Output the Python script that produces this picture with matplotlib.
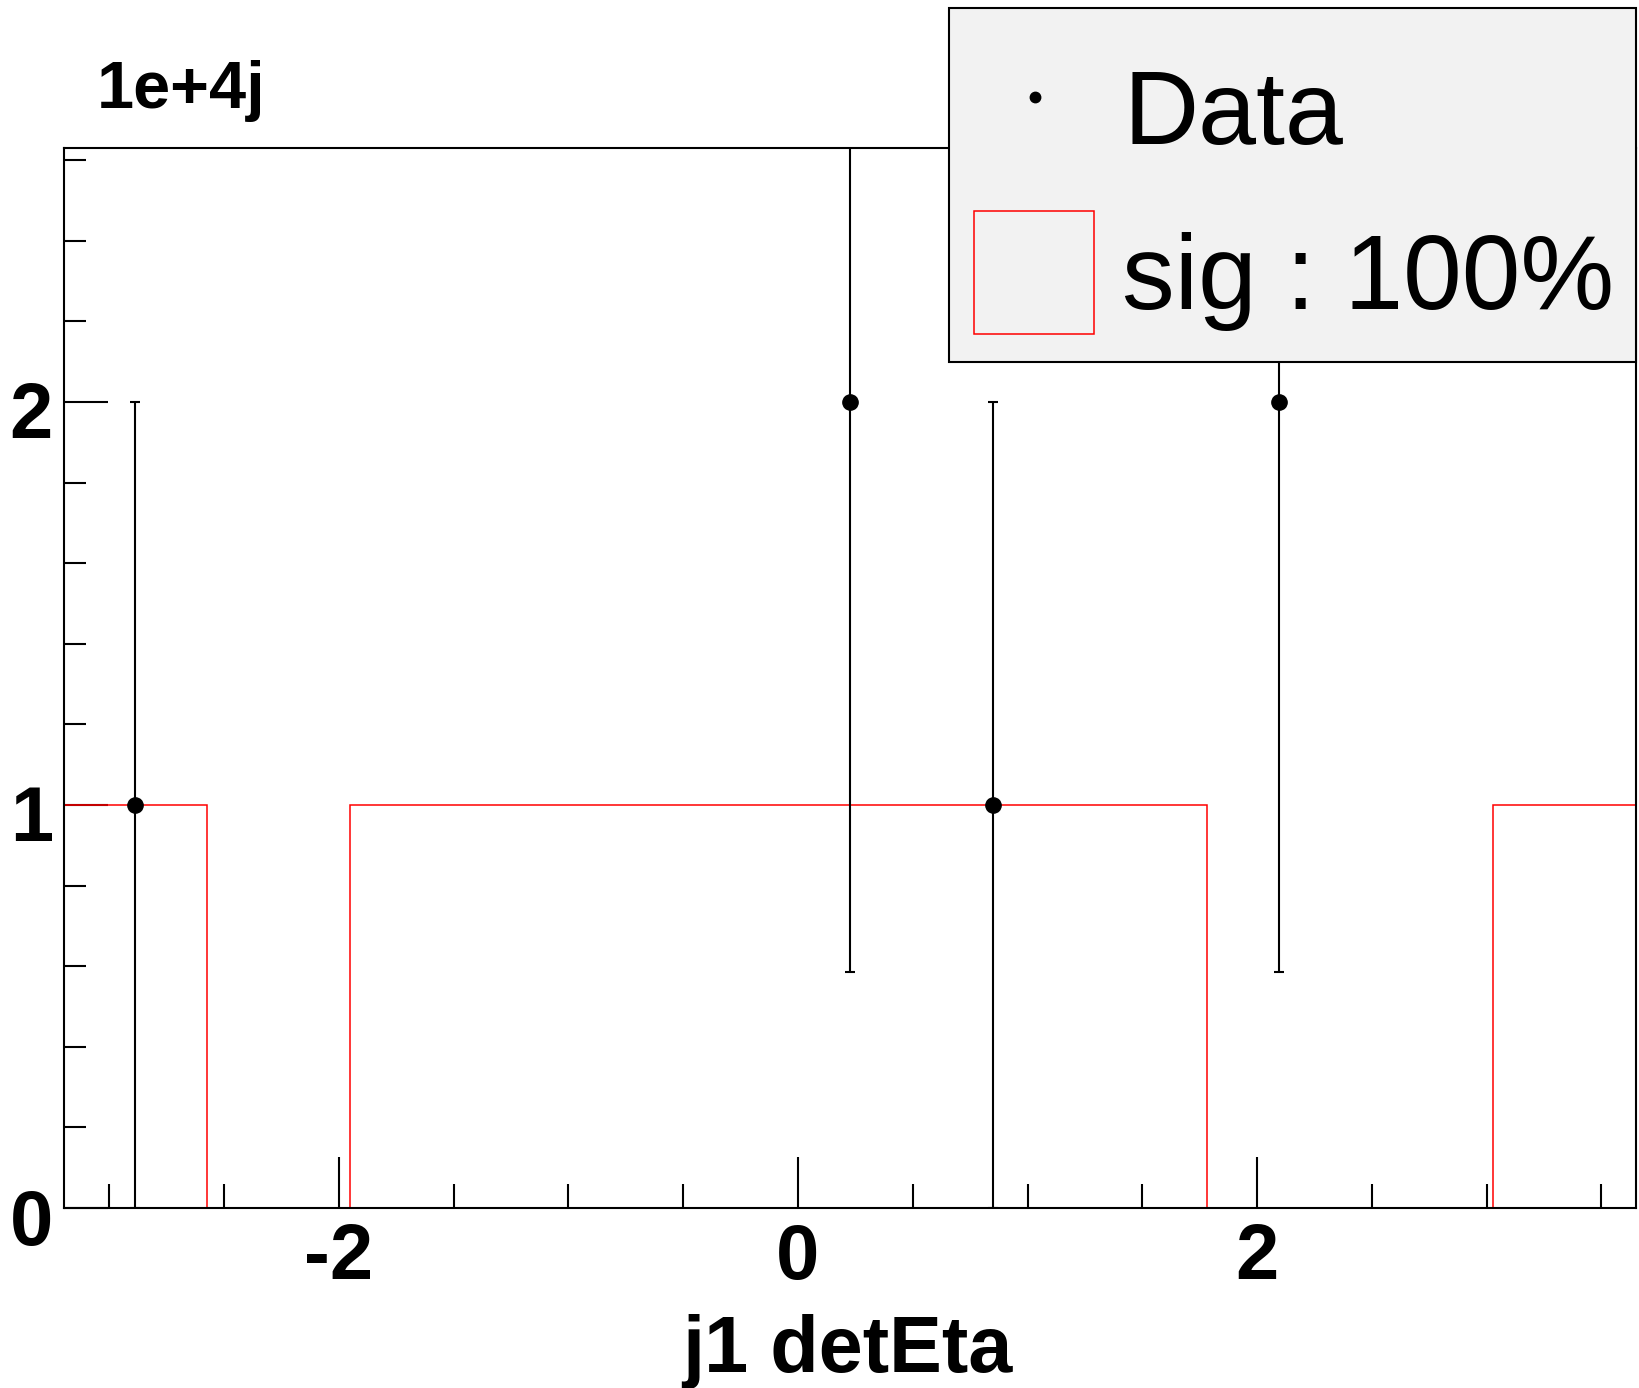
import matplotlib
matplotlib.use('Agg')
import matplotlib.pyplot as plt
from matplotlib.patches import Rectangle
from matplotlib.lines import Line2D
from matplotlib.ticker import MultipleLocator
from matplotlib.transforms import ScaledTranslation

plt.rcParams['font.family'] = ['Liberation Sans', 'DejaVu Sans']
plt.rcParams['axes.unicode_minus'] = False

# 11 equal bins of j1 detEta
bin_edges = [-3.198, -2.575, -1.953, -1.330, -0.707, -0.085, 0.538,
             1.160, 1.783, 2.406, 3.028, 3.651]
sig_counts = [1, 0, 1, 1, 1, 1, 1, 1, 0, 0, 1]

# data points (non-empty bins only), units of 1e4
data_x = [-2.887, 0.227, 0.849, 2.095]
data_y = [1, 2, 1, 2]
data_err = [1.0, 1.414, 1.0, 1.414]

W, H = 1639, 1388
fig = plt.figure(figsize=(W / 100, H / 100), dpi=100)


def fx(x):
    return x / W


def fy(y):
    return 1 - y / H


ax = fig.add_axes([fx(64), fy(1208), fx(1636) - fx(64), fy(148) - fy(1208)])

ax.stairs(sig_counts, bin_edges, color='red', linewidth=1.1, zorder=2)
ax.errorbar(data_x, data_y, yerr=data_err, fmt='o', color='black',
            markersize=11, elinewidth=1.5, capsize=3.6, capthick=1.5, zorder=3)

ax.set_xlim(bin_edges[0], bin_edges[-1])
ax.set_ylim(0, 2.63)

for s in ax.spines.values():
    s.set_linewidth(1.5)

ax.xaxis.set_major_locator(MultipleLocator(2))
ax.xaxis.set_minor_locator(MultipleLocator(0.5))
ax.yaxis.set_major_locator(MultipleLocator(1))
ax.yaxis.set_minor_locator(MultipleLocator(0.2))

ax.tick_params(axis='x', which='major', direction='in', length=37, width=1.5,
               labelsize=56, pad=10)
ax.tick_params(axis='x', which='minor', direction='in', length=17, width=1.5)
ax.tick_params(axis='y', which='major', direction='in', length=32, width=1.5,
               labelsize=56, pad=8)
ax.tick_params(axis='y', which='minor', direction='in', length=16, width=1.5)
for lab in ax.get_xticklabels() + ax.get_yticklabels():
    lab.set_fontweight('bold')
for lab in ax.get_yticklabels():
    lab.set_transform(lab.get_transform() + ScaledTranslation(0, -0.08, fig.dpi_scale_trans))

# axis title and exponent label
fig.text(fx(847), fy(1372), 'j1 detEta', ha='center', va='baseline',
         fontsize=57, fontweight='bold')
fig.text(fx(97), fy(108), '1e+4j', ha='left', va='baseline',
         fontsize=48, fontweight='bold')

# legend box
fig.patches.append(Rectangle((fx(949), fy(362)), fx(1636) - fx(949), fy(8) - fy(362),
                             transform=fig.transFigure, facecolor='#f2f2f2',
                             edgecolor='black', linewidth=1.5, zorder=5))
fig.lines.append(Line2D([fx(1035)], [fy(97)], marker='o', markersize=7.5,
                        color='black', transform=fig.transFigure, zorder=6))
fig.patches.append(Rectangle((fx(974), fy(334)), fx(1094) - fx(974), fy(211) - fy(334),
                             transform=fig.transFigure, facecolor='none',
                             edgecolor='red', linewidth=1.1, zorder=6))
fig.text(fx(1124), fy(144), 'Data', ha='left', va='baseline', fontsize=75, zorder=7)
fig.text(fx(1122), fy(309), 'sig : 100%', ha='left', va='baseline', fontsize=76, zorder=7)

fig.savefig('out.png', dpi=100)
